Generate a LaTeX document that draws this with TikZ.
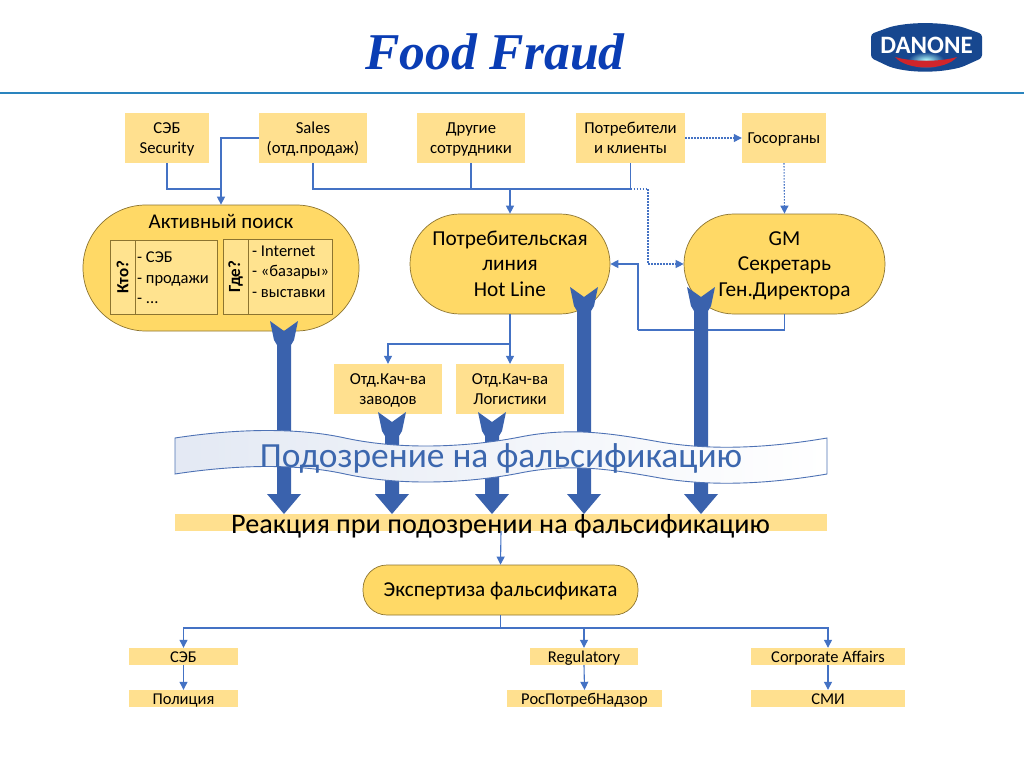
\documentclass[tikz,border=0pt]{standalone}
\usepackage{fontspec}
\setmainfont{Carlito}
\newfontfamily\titlefont{Liberation Serif}
\usetikzlibrary{arrows.meta,calc}
\definecolor{boxfill}{HTML}{FFE08F}
\definecolor{pillfill}{HTML}{FFD966}
\definecolor{pilledge}{HTML}{8C7430}
\definecolor{tablefill}{HTML}{FFE38F}
\definecolor{linkblue}{HTML}{4472C4}
\definecolor{thickblue}{HTML}{3A62AD}
\definecolor{bannertext}{HTML}{3C67AE}
\definecolor{titleblue}{HTML}{0A3DB4}
\definecolor{rulecol}{HTML}{2A84BE}
\definecolor{logoblue}{HTML}{17478F}
\definecolor{logored}{HTML}{D0252B}
\newcommand{\fsz}[1]{\fontsize{#1}{#1}\selectfont}
\newcommand{\twolines}[2]{\rule{0pt}{14pt}#1\\[3.3pt]#2\rule[-4pt]{0pt}{4pt}}
\newcommand{\threelines}[3]{\rule{0pt}{17.6pt}#1\\[4.5pt]#2\\[4.5pt]#3\rule[-4pt]{0pt}{4pt}}
\tikzset{
  x=1pt,y=-1pt,
  boxnode/.style={fill=boxfill,draw=none,inner sep=0pt,align=center,font=\fsz{16.7}},
  pillnode/.style={fill=pillfill,draw=pilledge,line width=.7pt,inner sep=0pt,align=center},
  conn/.style={draw=linkblue,line width=1.1pt},
  connarrow/.style={conn,-{Triangle[length=8pt,width=8pt]}},
  dotconn/.style={conn,line width=1.1pt,dash pattern=on 1.5pt off 1.5pt},
  dotarrow/.style={dotconn,-{Triangle[length=8pt,width=8pt]}},
  tablebox/.style={fill=tablefill,draw=pilledge,line width=.6pt,inner sep=0pt},
  tabletext/.style={inner sep=0pt,align=left,font=\fsz{16.5}},
  smallbar/.style={boxnode,font=\fsz{16.5},text height=12pt,text depth=1pt},
}
% #1 centre x, #2 tail top y, #3 tip y
\newcommand{\thickarrow}[3]{%
  \fill[thickblue] (#1-14,#2) -- (#1,#2+10) -- (#1+14,#2) -- (#1+10,#2+19) -- (#1+7,#2+24)
    -- (#1+7,#3-20) -- (#1+17,#3-20) -- (#1,#3) -- (#1-17,#3-20) -- (#1-7,#3-20)
    -- (#1-7,#2+24) -- (#1-10,#2+19) -- cycle;}
\begin{document}
\begin{tikzpicture}
\useasboundingbox (0,0) rectangle (1024,768);
\fill[white] (0,0) rectangle (1024,768);

% header
\node[inner sep=0pt,text=titleblue,font=\titlefont\bfseries\itshape\fsz{51.6}] (title) at (495,52) {Food Fraud};
\coordinate (ruleL) at (0,93);
\coordinate (ruleR) at (1024,93);
\draw[rulecol,line width=1.8pt] (ruleL) -- (ruleR);

% logo
\fill[logoblue,rounded corners=3pt] (871,34) -- (890,27) .. controls (912,22) and (938,22) .. (962,27) -- (982,34) -- (982,58) -- (962,67) .. controls (938,73) and (912,73) .. (890,67) -- (871,58) -- cycle;
\shade[inner color=white!70!cyan,outer color=logoblue,shading=radial] (908,52) rectangle (944,68);
\fill[logored] (895,57) .. controls (912,62) and (940,62) .. (957,57) .. controls (945,71) and (907,71) .. (895,57) -- cycle;
\node[inner sep=0pt,text=white,font=\bfseries\fsz{25}] (logo) at (926.5,45) {DANONE};

% top row
\node[boxnode,minimum width=84pt,minimum height=50pt] (seb) at (167,138) {\twolines{СЭБ}{Security}};
\node[boxnode,minimum width=108pt,minimum height=50pt] (sales) at (313,138) {\twolines{Sales}{(отд.продаж)}};
\node[boxnode,minimum width=108pt,minimum height=50pt] (other) at (471,138) {\twolines{Другие}{сотрудники}};
\node[boxnode,minimum width=109pt,minimum height=50pt] (cons) at (630.5,138) {\twolines{Потребители}{и клиенты}};
\node[boxnode,minimum width=84pt,minimum height=50pt,text height=11pt,text depth=0pt] (gov) at (784,138) {Госорганы};

% pills
\node[pillnode,minimum width=276pt,minimum height=126pt,rounded corners=62.9pt] (active) at (221,268) {};
\node[inner sep=0pt,font=\fsz{21}] (activetxt) at (221,221) {Активный поиск};
\node[pillnode,minimum width=200pt,minimum height=100pt,rounded corners=49.9pt,font=\fsz{21.3}] (hot) at (510,264) {\threelines{Потребительская}{линия}{Hot Line}};
\node[pillnode,minimum width=201pt,minimum height=100pt,rounded corners=49.9pt,font=\fsz{21.3}] (gm) at (784.5,264) {\threelines{GM}{Секретарь}{Ген.Директора}};

% tables inside active search
\node[tablebox,minimum width=107pt,minimum height=74pt] (kto) at (163.5,277) {};
\node[tablebox,minimum width=25pt,minimum height=74pt,rotate=0] (ktohead) at (122.5,277) {};
\node[inner sep=0pt,rotate=90,font=\bfseries\fsz{17}] (ktolabel) at (122.5,277) {Кто?};
\node[tabletext,anchor=west] (ktotxt) at (137,278) {- СЭБ\\[4pt]- продажи\\[4pt]- ...};
\node[tablebox,minimum width=109pt,minimum height=75pt] (gde) at (277.5,276.5) {};
\node[tablebox,minimum width=25pt,minimum height=75pt] (gdehead) at (235.5,276.5) {};
\node[inner sep=0pt,rotate=90,font=\bfseries\fsz{17}] (gdelabel) at (235.5,276.5) {Где?};
\node[tabletext,anchor=west] (gdetxt) at (252,271.5) {- Internet\\[4pt]- «базары»\\[4pt]- выставки};

% quality boxes
\node[boxnode,minimum width=108pt,minimum height=50pt] (q1) at (388,389) {\twolines{Отд.Кач-ва}{заводов}};
\node[boxnode,minimum width=108pt,minimum height=50pt] (q2) at (510,389) {\twolines{Отд.Кач-ва}{Логистики}};

% reaction bar and expertise
\node[boxnode,minimum width=652pt,minimum height=17pt] (react) at (501,522.5) {};
\node[pillnode,minimum width=275pt,minimum height=50pt,rounded corners=24pt,font=\fsz{21.2},text height=14pt,text depth=1pt] (exp) at (500.5,590) {Экспертиза фальсификата};

% bottom rows
\node[smallbar,minimum width=109pt,minimum height=17pt] (b1) at (183.5,656.5) {СЭБ};
\node[smallbar,minimum width=108pt,minimum height=17pt] (b2) at (584,656.5) {Regulatory};
\node[smallbar,minimum width=154pt,minimum height=17pt] (b3) at (828,656.5) {Corporate Affairs};
\node[smallbar,minimum width=109pt,minimum height=17pt] (c1) at (183.5,698.5) {Полиция};
\node[smallbar,minimum width=155pt,minimum height=17pt] (c2) at (584.5,698.5) {РосПотребНадзор};
\node[smallbar,minimum width=154pt,minimum height=17pt] (c3) at (828,698.5) {СМИ};

% thin connectors
\coordinate (busA) at (221,189);
\coordinate (busB) at (510,189);
\coordinate (busC) at (630.5,189);
\coordinate (dotA) at (648,189);
\coordinate (hotIn) at (510,344);
\coordinate (gmBack) at (638,330);
\coordinate (expBus) at (500.5,628);

\draw[conn] (seb.south) |- (busA);
\draw[connarrow] (sales.west) -| (active.north);
\draw[conn] (sales.south) |- (busC);
\draw[conn] (other.south) -- (other.south |- busB);
\draw[conn] (cons.south) -- (busC);
\draw[connarrow] (busB) -- (hot.north);
\draw[dotconn] (busC) -- (dotA);
\draw[dotarrow] (dotA) |- (gm.west);
\draw[dotarrow] (cons.east) -- (gov.west);
\draw[dotarrow] (gov.south) -- (gm.north);
\draw[conn] (gm.south) |- (gmBack);
\draw[connarrow] (gmBack) |- (hot.east);
\draw[conn] (hot.south) -- (hotIn);
\draw[connarrow] (hotIn) -- (q2.north);
\draw[connarrow] (hotIn) -| (q1.north);
\draw[connarrow] (react.south) -- (exp.north);
\draw[conn] (exp.south) -- (expBus);
\draw[connarrow] (expBus) -| (b1.north);
\draw[connarrow] (expBus) -| (b2.north);
\draw[connarrow] (expBus) -| (b3.north);
\draw[connarrow] (b1.south) -- (c1.north);
\draw[connarrow] (b2.south) -- (c2.north);
\draw[connarrow] (b3.south) -- (c3.north);

% thick arrows
\thickarrow{284}{321}{514}
\thickarrow{392}{412}{514}
\thickarrow{492}{412}{514}
\thickarrow{584}{287}{514}
\thickarrow{701}{287}{514}

% banner
\draw[draw=thickblue!90!white,line width=.9pt,left color=thickblue!14!white,right color=white]
  (175,438) .. controls (240,428) and (300,428) .. (345,438)
  .. controls (410,452) and (480,445) .. (520,437)
  .. controls (570,427) and (610,433) .. (660,442)
  .. controls (720,452) and (780,446) .. (827,438)
  -- (827,474)
  .. controls (780,482) and (720,488) .. (660,478)
  .. controls (610,469) and (570,463) .. (520,473)
  .. controls (480,481) and (410,488) .. (345,474)
  .. controls (300,464) and (240,464) .. (175,474) -- cycle;
\node[inner sep=0pt,text=bannertext,font=\fsz{35.4}] (bannertxt) at (501,458) {Подозрение на фальсификацию};
\node[inner sep=0pt,font=\fsz{28.2}] (reacttxt) at (500.5,526) {Реакция при подозрении на фальсификацию};
\end{tikzpicture}
\end{document}
